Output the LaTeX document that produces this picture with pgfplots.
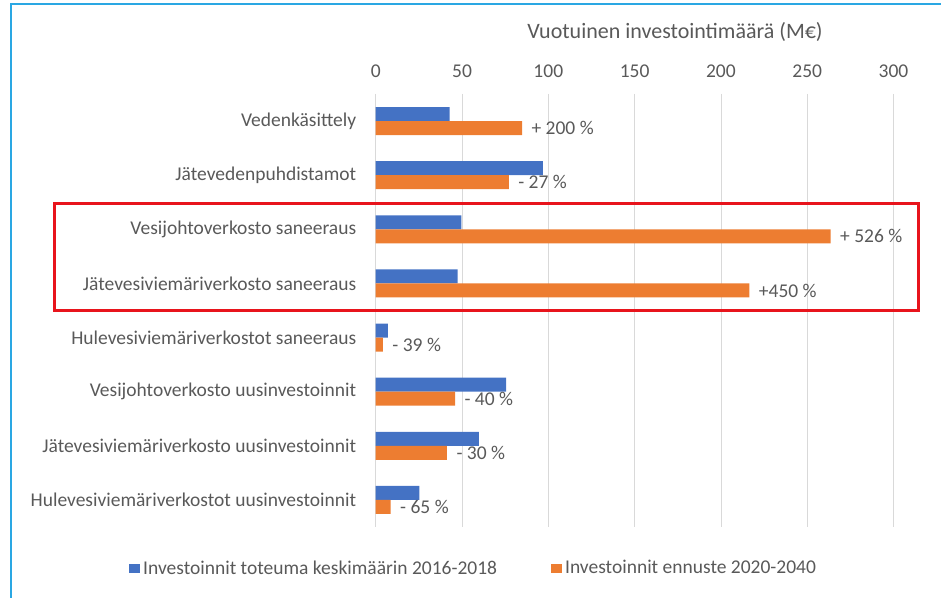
\documentclass[border=0pt]{standalone}
\usepackage{pgfplots}
\pgfplotsset{compat=1.18}
\usepackage{fontspec}
\setmainfont{Carlito}
\definecolor{bblue}{HTML}{4472C4}
\definecolor{borange}{HTML}{ED7D31}
\definecolor{tgray}{HTML}{595959}
\definecolor{frameblue}{HTML}{2AA7E3}
\definecolor{boxred}{HTML}{E8141C}
\definecolor{gridgray}{HTML}{D9D9D9}
\begin{document}
\begin{tikzpicture}[font=\fontsize{19.5bp}{23bp}\selectfont]
\begin{axis}[
  name=ax,
  scale only axis, width=517.8bp, height=433bp,
  xbar, bar width=14bp,
  xmin=0, xmax=300,
  ymin=-0.5, ymax=7.5, y dir=reverse,
  ytick={0,...,7},
  yticklabels={Vedenkäsittely, Jätevedenpuhdistamot, Vesijohtoverkosto saneeraus, Jätevesiviemäriverkosto saneeraus, Hulevesiviemäriverkostot saneeraus, Vesijohtoverkosto uusinvestoinnit, Jätevesiviemäriverkosto uusinvestoinnit, Hulevesiviemäriverkostot uusinvestoinnit},
  xtick={0,50,...,300},
  xticklabel pos=upper,
  xmajorgrids, grid style={gridgray, line width=0.8bp},
  axis line style={draw=none},
  major tick length=0pt,
  tick label style={text=tgray, font=\fontsize{19.5bp}{23bp}\selectfont},
  /pgf/number format/assume math mode=true,
  xticklabel style={yshift=13bp},
  yticklabel style={xshift=-16bp},
  legend columns=2,
  legend style={draw=none, fill=none, inner sep=0pt, at={(axis description cs:-0.4764,-0.0947)}, anchor=west,
    font=\fontsize{19.5bp}{23bp}\selectfont, text=tgray,
    nodes={inner xsep=3bp},
    /tikz/every even column/.append style={column sep=51bp}},
]
\addplot[fill=bblue, draw=none, bar shift=7bp,
  legend image code/.code={\fill[bblue] (0bp,-4.5bp) rectangle (11bp,4.5bp);}]
  coordinates {(42.8,0) (96.9,1) (49.7,2) (47.5,3) (7.1,4) (75.6,5) (59.8,6) (25.3,7)};
\addlegendentry{Investoinnit toteuma keskimäärin 2016-2018}
\addplot[fill=borange, draw=none, bar shift=-7bp,
  nodes near coords, point meta=explicit symbolic,
  every node near coord/.append style={anchor=west, xshift=6bp, text=tgray, font=\fontsize{19.5bp}{23bp}\selectfont},
  legend image code/.code={\fill[borange] (0bp,-4.5bp) rectangle (11bp,4.5bp);}]
  coordinates {(84.8,0) [+ 200 \%] (77.1,1) [- 27 \%] (263.6,2) [+ 526 \%] (216.5,3) [+450 \%]
    (4.2,4) [- 39 \%] (46,5) [- 40 \%] (41.3,6) [- 30 \%] (8.7,7) [- 65 \%]};
\addlegendentry{Investoinnit ennuste 2020-2040}
\end{axis}
\pgfresetboundingbox
\begin{scope}[shift={(ax.south west)}, xshift=-375.7bp, yshift=-71bp, x=1bp, y=1bp]
\path[use as bounding box] (0,0) rectangle (941,598);
\node[text=tgray, font=\fontsize{22bp}{26bp}\selectfont] at (675,566) {Vuotuinen investointimäärä (M€)};
\draw[boxred, line width=3bp] (54.5,394) rectangle (918,287);
\draw[frameblue, line width=2.5bp] (11,0) -- (11,594) -- (941,594);
\end{scope}
\end{tikzpicture}
\end{document}
